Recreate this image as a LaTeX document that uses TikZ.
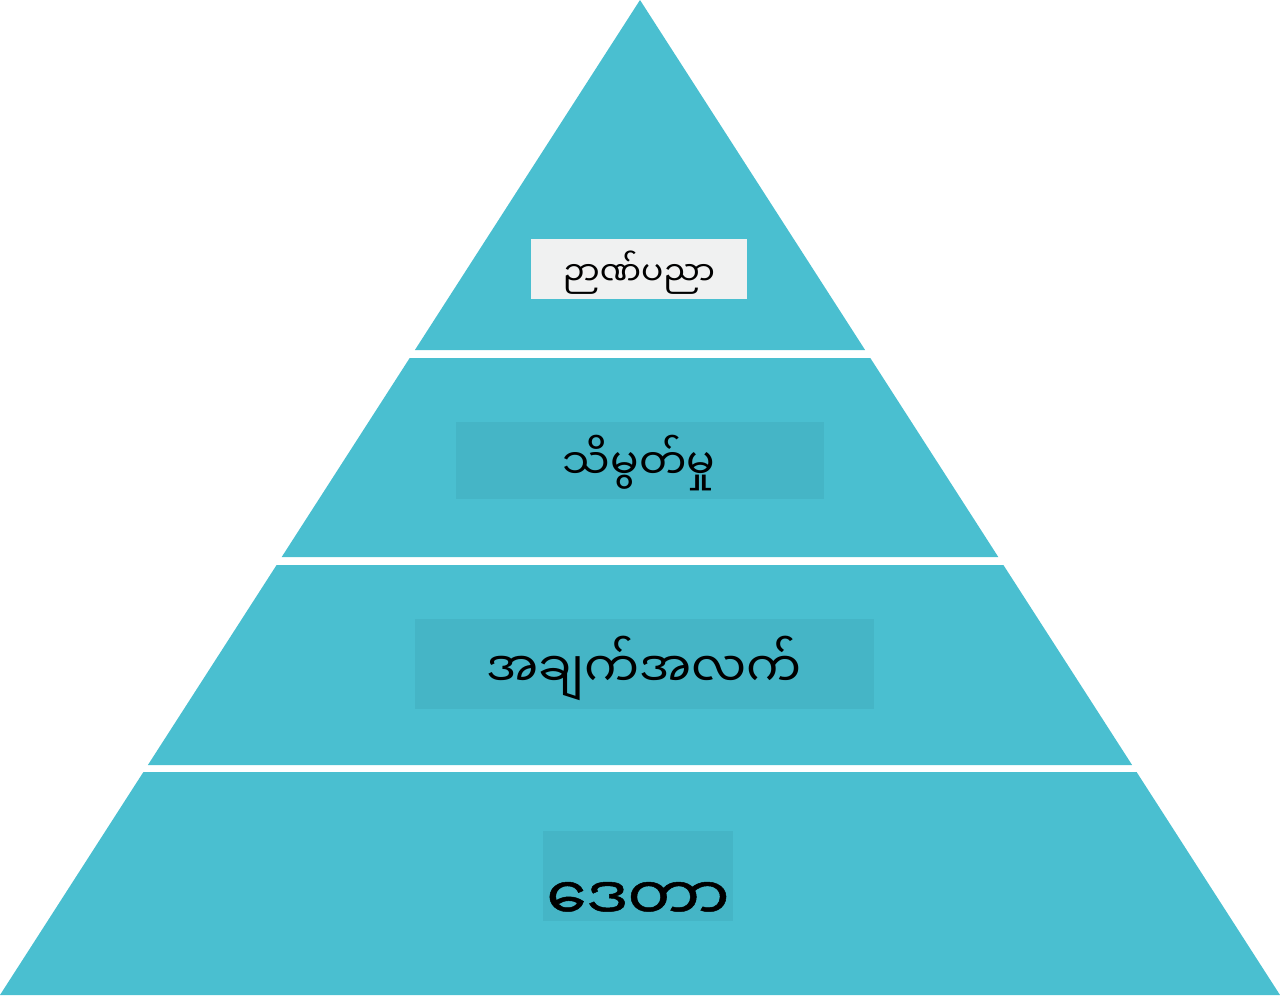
\documentclass[tikz,border=0pt]{standalone}
\usepackage{fontspec}
\newfontfamily\myfont[Script=Myanmar]{Noto Sans Myanmar UI}
\newfontfamily\myheavyfont[Script=Myanmar,FakeBold=0.8]{Noto Sans Myanmar UI}
\definecolor{teal1}{RGB}{74,191,208}
\definecolor{boxteal}{RGB}{69,181,198}
\definecolor{boxgray}{RGB}{240,241,241}
\tikzset{
  band/.style={fill=teal1, draw=none},
  lbl/.style={inner sep=0pt, outer sep=0pt, font=\myfont, text=black, anchor=center},
}
\begin{document}
\begin{tikzpicture}[x=0.5pt,y=-0.5pt]
\useasboundingbox (0,0) rectangle (1280,998);
% bands
\fill[band] (640,0) -- (865.1,350) -- (414.9,350) -- cycle;
\fill[band] (409.7,358) -- (870.3,358) -- (998.3,557) -- (281.7,557) -- cycle;
\fill[band] (276.6,565) -- (1003.4,565) -- (1132.1,765) -- (147.9,765) -- cycle;
\fill[band] (143.4,772) -- (1136.6,772) -- (1280,995) -- (0,995) -- cycle;
% label boxes
\fill[boxgray] (531,239) rectangle (747,299);
\fill[boxteal] (456,422) rectangle (824,499);
\fill[boxteal] (415,619) rectangle (874,709);
\fill[boxteal] (543,831) rectangle (733,921);
% labels
\node[lbl] (wisdom) at (639,273) {\resizebox{76pt}{!}{ဉာဏ်ပညာ}};
\node[lbl] (knowledge) at (639,463) {\resizebox{76pt}{!}{သိမွတ်မှု}};
\node[lbl] (information) at (644,668) {\resizebox{157.5pt}{!}{အချက်အလက်}};
\node[lbl, font=\myheavyfont] (data) at (638,901) {\resizebox{91.5pt}{19pt}{ဒေတာ}};
\end{tikzpicture}
\end{document}
